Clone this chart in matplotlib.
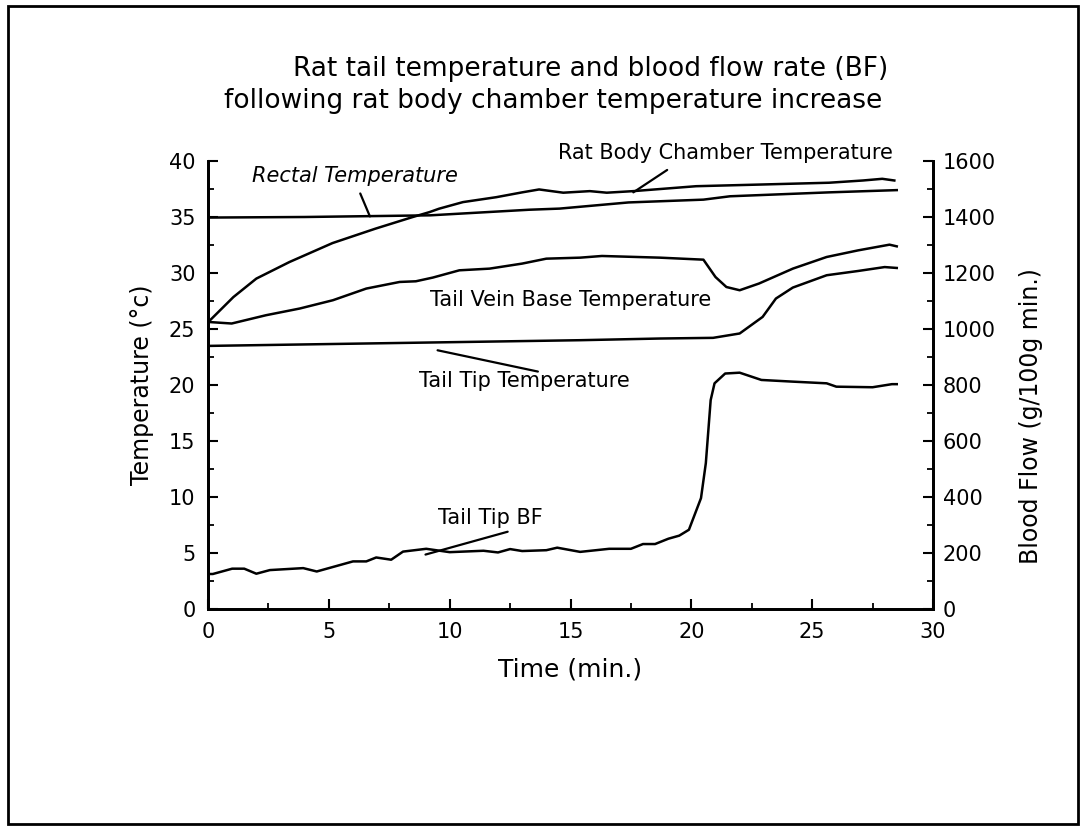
import matplotlib
matplotlib.use("Agg")
import matplotlib.pyplot as plt
from matplotlib.ticker import MultipleLocator
from matplotlib.patches import Rectangle

plt.rcParams['font.family'] = ['DejaVu Sans']

# ---- data ----
chamber_t = [0, 1.05, 2.0, 3.37, 5.15, 6.93, 8.46, 9.17, 9.56, 10.55, 11.93, 13.0, 13.7, 14.7, 15.8, 16.5, 17.6, 20.2, 22.9, 25.7, 27.1, 27.9, 28.4]
chamber_T = [25.6, 27.85, 29.5, 30.98, 32.67, 33.96, 34.99, 35.44, 35.74, 36.33, 36.77, 37.2, 37.46, 37.17, 37.31, 37.17, 37.31, 37.75, 37.9, 38.06, 38.26, 38.41, 38.26]

rectal_t = [0, 4, 9.2, 13.3, 14.55, 17.4, 20.5, 21.6, 25.7, 28.5]
rectal_T = [34.95, 35.0, 35.15, 35.65, 35.75, 36.3, 36.55, 36.85, 37.2, 37.4]

vein_t = [0, 0.98, 2.4, 3.8, 5.17, 6.55, 7.93, 8.6, 9.3, 10.4, 11.65, 13.0, 14.0, 15.4, 16.3, 18.7, 20.5, 21.0, 21.45, 22.0, 22.8, 24.2, 25.6, 26.9, 28.2, 28.5]
vein_T = [25.63, 25.49, 26.23, 26.83, 27.57, 28.61, 29.2, 29.26, 29.59, 30.24, 30.39, 30.84, 31.28, 31.37, 31.52, 31.37, 31.19, 29.64, 28.75, 28.46, 29.06, 30.39, 31.43, 32.02, 32.53, 32.38]

tip_t = [0, 15.4, 18.7, 20.9, 22.0, 22.95, 23.5, 24.2, 25.6, 26.9, 28.0, 28.5]
tip_T = [23.49, 24.0, 24.15, 24.21, 24.6, 26.08, 27.72, 28.7, 29.8, 30.18, 30.53, 30.45]

bf_t = [0, 0.2, 1.0, 1.5, 2.0, 2.56, 3.94, 4.5, 6.0, 6.55, 6.96, 7.58, 8.07, 9.03, 10.0, 11.4, 12.0, 12.5, 13.0, 14.0, 14.45, 15.4, 16.6, 17.5, 18.0, 18.5, 19.05, 19.5, 19.9, 20.4, 20.6, 20.8, 20.96, 21.4, 22.0, 22.9, 24.2, 25.6, 26.0, 27.5, 28.3, 28.5]
bf = [125, 125, 144, 144, 126, 139, 146, 134, 170, 170, 184, 176, 205, 215, 203, 208, 202, 214, 207, 210, 219, 204, 215, 215, 232, 232, 251, 262, 283, 396, 521, 746, 806, 841, 844, 818, 812, 806, 794, 792, 803, 803]

x_ticks = [0, 5, 10, 15, 20, 25, 30]
temp_ticks = [0, 5, 10, 15, 20, 25, 30, 35, 40]
bf_ticks = [0, 200, 400, 600, 800, 1000, 1200, 1400, 1600]

title_lines = ["Rat tail temperature and blood flow rate (BF)",
               "following rat body chamber temperature increase"]

# ---- figure ----
W, H = 1089, 831
fig = plt.figure(figsize=(W / 100, H / 100), dpi=100)
fig.patch.set_facecolor('white')

ax = fig.add_axes([208 / W, 1 - 609 / H, (933 - 208) / W, (609 - 161) / H])
ax2 = ax.twinx()

lw = 1.8
for tt, yy in [(chamber_t, chamber_T), (rectal_t, rectal_T), (vein_t, vein_T), (tip_t, tip_T)]:
    ax.plot(tt, yy, color='black', lw=lw, solid_joinstyle='round')
ax2.plot(bf_t, bf, color='black', lw=lw, solid_joinstyle='round')

ax.set_xlim(0, 30)
ax.set_ylim(0, 40)
ax2.set_ylim(0, 1600)

ax.set_xticks(x_ticks)
ax.set_yticks(temp_ticks)
ax2.set_yticks(bf_ticks)
ax.xaxis.set_minor_locator(MultipleLocator(2.5))
ax.yaxis.set_minor_locator(MultipleLocator(2.5))
ax2.yaxis.set_minor_locator(MultipleLocator(100))

for a in (ax, ax2):
    a.spines['top'].set_visible(False)
    for s in a.spines.values():
        s.set_linewidth(2.0)
    a.tick_params(which='major', direction='in', length=7, width=1.5, labelsize=15, pad=9)
    a.tick_params(which='minor', direction='in', length=4, width=1.3)
ax.tick_params(axis='x', pad=9)
ax2.tick_params(axis='y', pad=7)

ax.set_xlabel("Time (min.)", fontsize=18)
ax.xaxis.set_label_coords(0.5, -0.134)
ax.xaxis.label.set_va('center')
ax.set_ylabel("Temperature (°c)", fontsize=17)
ax.yaxis.set_label_coords(-0.091, 0.5)
ax.yaxis.label.set_va('center')
ax2.set_ylabel("Blood Flow (g/100g min.)", fontsize=17)
ax2.yaxis.set_label_coords(1.135, 0.43)
ax2.yaxis.label.set_va('center')

# ---- title ----
fig.text(591 / W, 1 - 69 / H, title_lines[0], ha='center', va='center', fontsize=19)
fig.text(553 / W, 1 - 101 / H, title_lines[1], ha='center', va='center', fontsize=19)

# ---- annotations ----
ap = dict(arrowstyle='-', color='black', lw=1.6, shrinkA=0, shrinkB=0)
fs = 15
ax.annotate("Rat Body Chamber Temperature", xy=(17.6, 37.2), xytext=(21.4, 40.7),
            ha='center', va='center', fontsize=fs, annotation_clip=False)
ax.annotate("", xy=(17.6, 37.2), xytext=(19.0, 39.2), arrowprops=ap, annotation_clip=False)
ax.annotate("Rectal Temperature", xy=(6.7, 35.05), xytext=(6.08, 38.7),
            ha='center', va='center', fontsize=fs, style='italic')
ax.annotate("", xy=(6.7, 35.05), xytext=(6.3, 37.1), arrowprops=ap)
ax.text(15.0, 27.6, "Tail Vein Base Temperature", ha='center', va='center', fontsize=fs)
ax.annotate("Tail Tip Temperature", xy=(9.5, 23.1), xytext=(13.1, 20.4),
            ha='center', va='center', fontsize=fs)
ax.annotate("", xy=(9.5, 23.1), xytext=(13.65, 21.2), arrowprops=ap)
ax.annotate("Tail Tip BF", xy=(9.0, 4.86), xytext=(11.7, 8.1),
            ha='center', va='center', fontsize=fs)
ax.annotate("", xy=(9.0, 4.86), xytext=(12.4, 6.9), arrowprops=ap)

# ---- outer frame ----
fig.add_artist(Rectangle((8 / W, 1 - 824 / H), (1078 - 8) / W, (824 - 6) / H,
                         transform=fig.transFigure, fill=False, lw=2.0, ec='black'))

fig.savefig("out.png", dpi=100, facecolor='white')
